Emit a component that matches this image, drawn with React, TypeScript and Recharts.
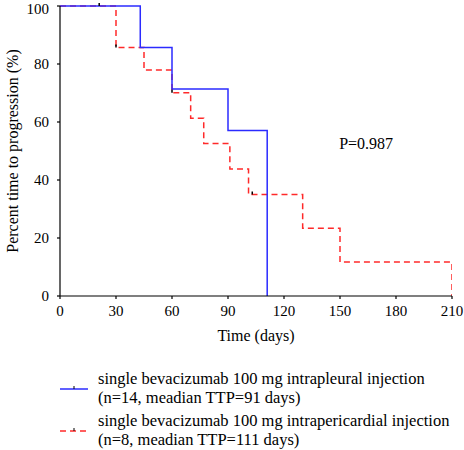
import { ComposedChart, Line, Scatter, XAxis, YAxis, Label, ReferenceDot } from 'recharts'

// tiempo (días) y porcentaje sin progresión
const pleuralDays = [0, 43, 60, 90, 111]
const pleuralPct = [100, 85.7, 71.4, 57.1, 0]
const pericardialDays = [0, 30, 45, 60, 70, 77, 91, 101, 130, 150, 210]
const pericardialPct = [100, 85.7, 77.9, 70.1, 61.3, 52.6, 43.8, 35, 23.4, 11.7, 0]
const censorDays = [21, 30, 60, 103]
const censorPct = [100, 85.7, 70.1, 35]
const xTicks = [0, 30, 60, 90, 120, 150, 180, 210]
const yTicks = [0, 20, 40, 60, 80, 100]
const legendLabels = [
  ['single bevacizumab 100 mg intrapleural injection', '(n=14, meadian TTP=91 days)'],
  ['single bevacizumab 100 mg intrapericardial injection', '(n=8, meadian TTP=111 days)'],
]

const blue = '#2b2bff'
const red = '#ff2a2a'
const font = '"Liberation Serif", "Times New Roman", serif'

const pleural = pleuralDays.map((t, i) => ({ t, v: pleuralPct[i] }))
const pericardial = pericardialDays.map((t, i) => ({ t, v: pericardialPct[i] }))
const censored = censorDays.map((t, i) => ({ t, v: censorPct[i] }))

const CensorTick = (props: any) => (
  <line x1={props.cx} x2={props.cx} y1={props.cy} y2={props.cy - 3} stroke="#000" strokeWidth={1.5} />
)

function LegendSample({ color, dashed }: { color: string; dashed?: boolean }) {
  return (
    <svg width={28} height={6} style={{ display: 'block' }}>
      <line x1={0} x2={28} y1={4} y2={4} stroke={color} strokeWidth={1.5} strokeDasharray={dashed ? '6 4' : undefined} />
      <line x1={14} x2={14} y1={4} y2={1} stroke="#000" strokeWidth={1} />
    </svg>
  )
}

export default function App() {
  const tickStyle = { fill: '#000', fontSize: 15, fontFamily: font }
  return (
    <div style={{ position: 'absolute', left: 0, top: 0, width: 464, height: 450, fontFamily: font }}>
      <ComposedChart width={464} height={450} margin={{ top: 6, right: 12, left: 12, bottom: 104 }}>
        <XAxis
          dataKey="t"
          type="number"
          domain={[0, 210]}
          ticks={xTicks}
          height={50}
          tickSize={3}
          tickMargin={6}
          stroke="#000"
          strokeWidth={1.2}
          tick={tickStyle}
          allowDataOverflow
        >
          <Label value="Time (days)" position="insideBottom" offset={5} style={{ fill: '#000', fontSize: 16, fontFamily: font }} />
        </XAxis>
        <YAxis
          dataKey="v"
          type="number"
          domain={[0, 100]}
          ticks={yTicks}
          width={48}
          tickSize={3}
          tickMargin={8}
          stroke="#000"
          strokeWidth={1.2}
          tick={tickStyle}
        >
          <Label
            value="Percent time to progression (%)"
            angle={-90}
            position="insideLeft"
            offset={0}
            style={{ textAnchor: 'middle', fill: '#000', fontSize: 16, fontFamily: font }}
          />
        </YAxis>
        <Line
          data={pericardial}
          dataKey="v"
          type="stepAfter"
          stroke={red}
          strokeWidth={1.5}
          strokeDasharray="6 4"
          dot={false}
          isAnimationActive={false}
        />
        <Line
          data={pleural}
          dataKey="v"
          type="stepAfter"
          stroke={blue}
          strokeWidth={1.5}
          dot={false}
          isAnimationActive={false}
        />
        <Scatter data={censored} dataKey="v" shape={CensorTick} isAnimationActive={false} />
        <ReferenceDot
          x={164}
          y={52.6}
          r={0}
          label={{ value: 'P=0.987', position: 'center', fill: '#000', fontSize: 16, fontFamily: font }}
        />
      </ComposedChart>
      <div style={{ position: 'absolute', left: 60, top: 369, fontSize: 16.5, lineHeight: '19px', color: '#000' }}>
        {legendLabels.map((lines, i) => (
          <div key={i} style={{ display: 'flex', alignItems: 'center', marginBottom: i === 0 ? 4 : 0 }}>
            <div style={{ width: 38 }}>
              <LegendSample color={i === 0 ? blue : red} dashed={i === 1} />
            </div>
            <div>
              {lines.map((l) => (
                <div key={l} style={{ whiteSpace: 'nowrap' }}>{l}</div>
              ))}
            </div>
          </div>
        ))}
      </div>
    </div>
  )
}
